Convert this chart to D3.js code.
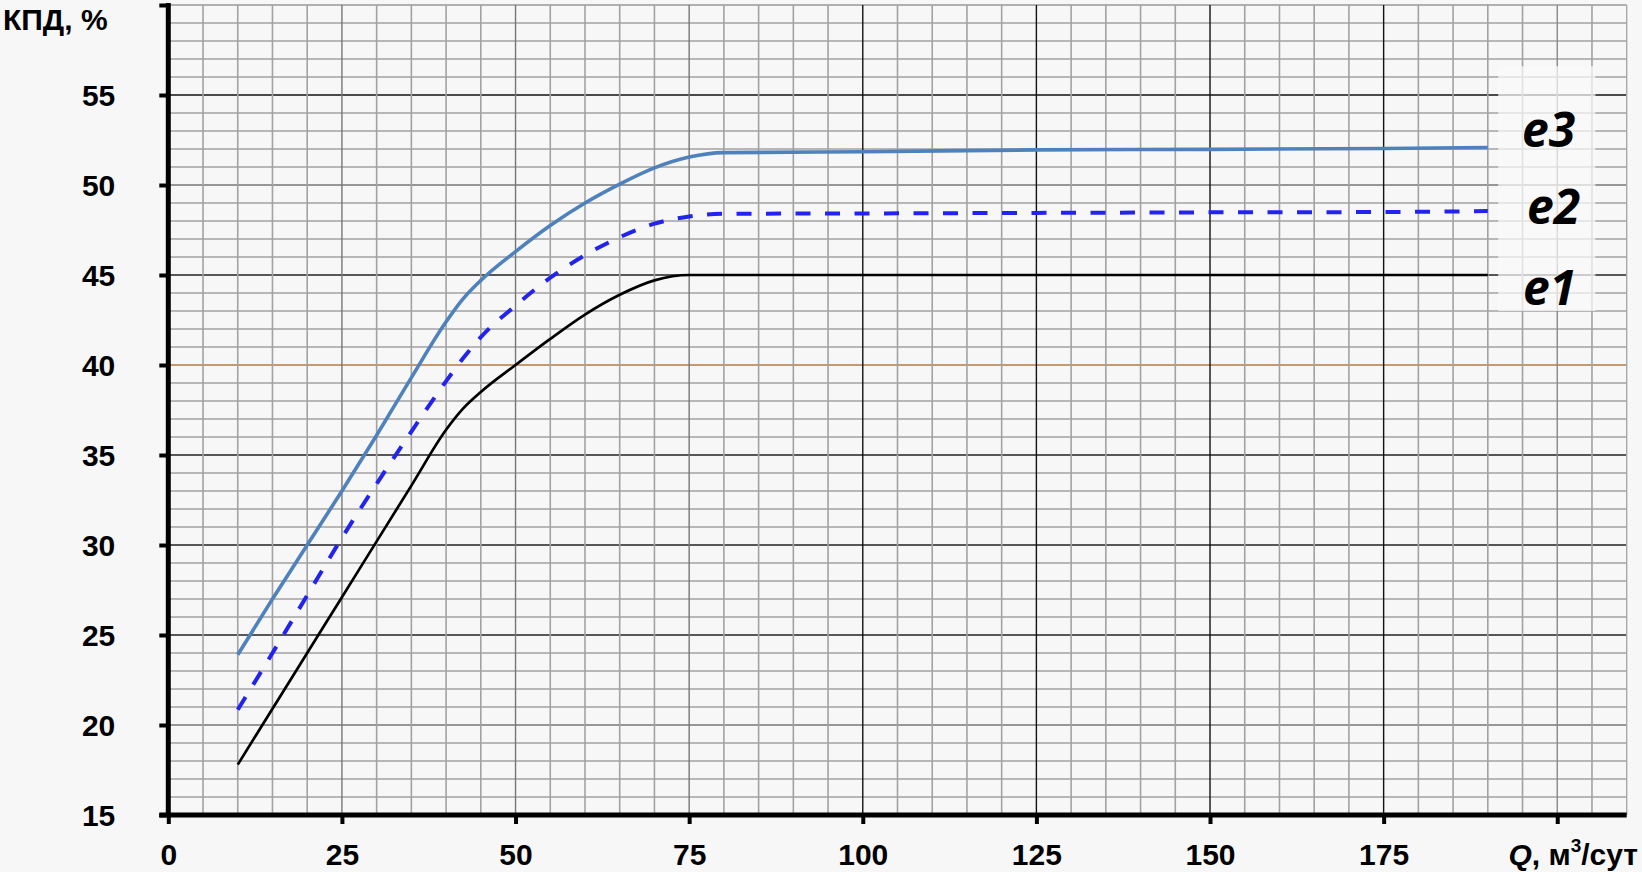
<!DOCTYPE html>
<html>
<head>
<meta charset="utf-8">
<script src="https://cdn.jsdelivr.net/npm/d3@7"></script>
<style>
html,body{margin:0;padding:0;background:#f7f7f7;}
svg{display:block;}
</style>
</head>
<body>
<svg id="chart" width="1642" height="872"></svg>
<script>
// ---- data ----
const qValues = [10, 15, 20, 25, 30, 35, 40, 42.5, 45, 50, 55, 60, 65, 70, 75, 80, 100, 125, 150, 175, 190];
const e1 = [17.8, 20.9, 24.0, 27.1, 30.2, 33.3, 36.4, 37.6, 38.5, 40.0, 41.45, 42.8, 43.9, 44.7, 45.0, 45.0, 45.0, 45.0, 45.0, 45.0, 45.0];
const e2 = [20.85, 24.0, 27.2, 30.4, 33.4, 36.3, 39.1, 40.4, 41.55, 43.3, 44.85, 46.1, 47.1, 47.85, 48.25, 48.4, 48.42, 48.45, 48.48, 48.5, 48.55];
const e3 = [23.9, 27.0, 30.0, 33.0, 36.1, 39.3, 42.4, 43.7, 44.7, 46.3, 47.75, 49.0, 50.05, 50.95, 51.55, 51.8, 51.85, 51.95, 51.98, 52.03, 52.08];
const seriesNames = ["e1", "e2", "e3"];
const xTicks = [0, 25, 50, 75, 100, 125, 150, 175, 200];
const xTickLabels = ["0", "25", "50", "75", "100", "125", "150", "175", ""];
const yTicks = [15, 20, 25, 30, 35, 40, 45, 50, 55, 60];
const yTickLabels = ["15", "20", "25", "30", "35", "40", "45", "50", "55", ""];
const xTitle = "Q";
const xTitleRest = ", м";
const yTitle = "КПД, %";

// ---- layout ----
const svg = d3.select("#chart");
const X0 = 168.3, X1 = 1626.7, Y0 = 815, Y1 = 5;
const x = d3.scaleLinear().domain([0, 210]).range([X0, X1]);
const y = d3.scaleLinear().domain([15, 60]).range([Y0, Y1]);

const grid = svg.append("g");
// horizontal grid every 1 unit
const hVals = d3.range(16, 61, 1);
const hMajorColor = {20: "#777", 25: "#222", 30: "#222", 35: "#222", 40: "#b47a45", 45: "#222", 50: "#777", 55: "#111", 60: "#999"};
grid.selectAll("line.h").data(hVals).join("line")
  .attr("x1", X0).attr("x2", X1)
  .attr("y1", d => y(d)).attr("y2", d => y(d))
  .attr("stroke", d => hMajorColor[d] || "#a2a2a2")
  .attr("stroke-width", d => hMajorColor[d] ? 1.4 : 1.6);
// vertical grid every 5 units
const vVals = d3.range(5, 211, 5);
const vMajorColor = {25: "#777", 50: "#777", 75: "#777", 100: "#111", 125: "#111", 150: "#111", 175: "#111", 200: "#888", 210: "#aaa"};
grid.selectAll("line.v").data(vVals).join("line")
  .attr("x1", d => x(d)).attr("x2", d => x(d))
  .attr("y1", Y0).attr("y2", Y1)
  .attr("stroke", d => vMajorColor[d] || "#a2a2a2")
  .attr("stroke-width", d => vMajorColor[d] ? 1.4 : 1.6);

// label background box
svg.append("rect")
  .attr("x", x(191.5)).attr("y", y(56.6))
  .attr("width", x(205.5) - x(191.5)).attr("height", y(43) - y(56.6))
  .attr("fill", "#f9f9f9").attr("opacity", 0.72);

// ---- series ----
const line = d3.line().x(d => x(d[0])).y(d => y(d[1])).curve(d3.curveMonotoneX);
const mk = arr => qValues.map((q, i) => [q, arr[i]]);
svg.append("path").datum(mk(e1)).attr("d", line)
  .attr("fill", "none").attr("stroke", "#000").attr("stroke-width", 2.7);
svg.append("path").datum(mk(e2)).attr("d", line)
  .attr("fill", "none").attr("stroke", "#2323f0").attr("stroke-width", 4)
  .attr("stroke-dasharray", "15 14.5");
svg.append("path").datum(mk(e3)).attr("d", line)
  .attr("fill", "none").attr("stroke", "#4f81bd").attr("stroke-width", 3.6);

// ---- axes ----
const yAxis = d3.axisLeft(y).tickValues(yTicks).tickSize(9).tickFormat((d, i) => yTickLabels[i]);
const gy = svg.append("g").attr("transform", `translate(${X0},0)`).call(yAxis);
gy.select(".domain").remove();
gy.selectAll(".tick line").attr("stroke", "#000").attr("stroke-width", 4);
gy.selectAll(".tick text").attr("x", -53).attr("dy", "0.35em")
  .attr("font-family", "Liberation Sans, Arial, sans-serif").attr("font-weight", "bold")
  .attr("font-size", 30).attr("fill", "#000");
svg.append("line").attr("x1", X0).attr("x2", X0).attr("y1", Y1 - 2).attr("y2", Y0 + 2)
  .attr("stroke", "#000").attr("stroke-width", 5);

const xAxis = d3.axisBottom(x).tickValues(xTicks).tickSize(9).tickFormat((d, i) => xTickLabels[i]);
const gx = svg.append("g").attr("transform", `translate(0,${Y0})`).call(xAxis);
gx.select(".domain").remove();
gx.selectAll(".tick line").attr("stroke", "#000").attr("stroke-width", 4);
gx.selectAll(".tick text").attr("y", 50).attr("dy", 0)
  .attr("font-family", "Liberation Sans, Arial, sans-serif").attr("font-weight", "bold")
  .attr("font-size", 30).attr("fill", "#000");
svg.append("line").attr("x1", X0 - 9).attr("x2", X1).attr("y1", Y0).attr("y2", Y0)
  .attr("stroke", "#000").attr("stroke-width", 5);

// axis titles
const xt = svg.append("text").attr("x", 1638).attr("y", 865).attr("text-anchor", "end")
  .attr("font-family", "Liberation Sans, Arial, sans-serif").attr("font-weight", "bold")
  .attr("font-size", 30).attr("fill", "#000");
xt.append("tspan").attr("font-style", "italic").text(xTitle);
xt.append("tspan").text(xTitleRest);
xt.append("tspan").attr("font-size", 19).attr("dy", -13).text("3");
xt.append("tspan").attr("dy", 13).text("/сут");

svg.append("text").attr("x", 3).attr("y", 30)
  .attr("font-family", "Liberation Sans, Arial, sans-serif").attr("font-weight", "bold")
  .attr("font-size", 30).attr("fill", "#000").text(yTitle);

// series labels
const labelPos = {e1: [1523, 305], e2: [1527, 224], e3: [1522, 147]};
svg.selectAll("text.lab").data(seriesNames).join("text")
  .attr("class", "lab")
  .attr("x", d => labelPos[d][0]).attr("y", d => labelPos[d][1])
  .attr("font-family", "Open Sans, sans-serif").attr("font-weight", "bold").attr("font-style", "italic")
  .attr("font-size", 48).attr("fill", "#000").text(d => d);
</script>
</body>
</html>
